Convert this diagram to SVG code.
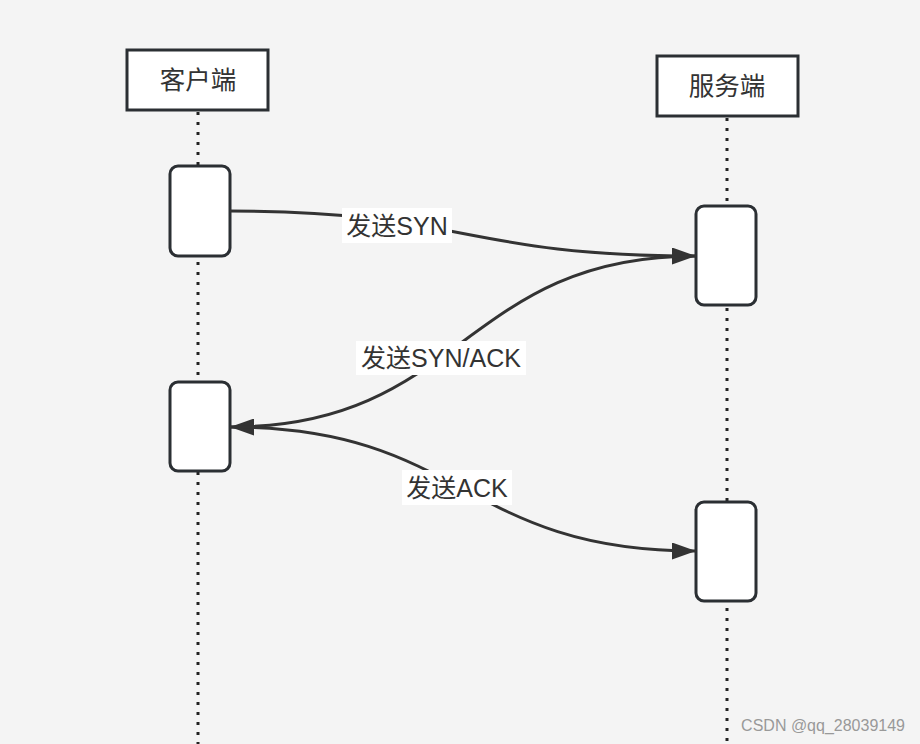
<svg xmlns="http://www.w3.org/2000/svg" width="920" height="744" viewBox="0 0 920 744">
<style>
.life{stroke:#222;stroke-width:3;stroke-dasharray:3 7;fill:none}
.head{fill:#fff;stroke:#2b2f33;stroke-width:3}
.act{fill:#fff;stroke:#2b2f33;stroke-width:3}
.ht{font-family:"Liberation Sans","Noto Sans CJK SC",sans-serif;font-size:25.5px;fill:#333;text-anchor:middle;dominant-baseline:central}
.lt{font-family:"Liberation Sans","Noto Sans CJK SC",sans-serif;font-size:25px;fill:#333;text-anchor:middle;dominant-baseline:central}
.lbg{fill:#fff}
.msg{fill:none;stroke:#333;stroke-width:3}
</style>
<defs>
<marker id="ah" viewBox="0 0 24 17" refX="24" refY="8.5" markerWidth="24" markerHeight="17" markerUnits="userSpaceOnUse" orient="auto">
<path d="M0,0 L24,8.5 L0,17 z" fill="#333"/>
</marker>
</defs>
<rect width="920" height="744" fill="#f4f4f4"/>
<g id="lifelines">
<line class="life" x1="198" y1="112" x2="198" y2="744"/>
<line class="life" x1="727" y1="118" x2="727" y2="744"/>
</g>
<g id="client">
<rect class="head" x="127" y="50" width="141" height="60"/>
<text class="ht" x="198" y="80">客户端</text>
</g>
<g id="server">
<rect class="head" x="657" y="56" width="141" height="60"/>
<text class="ht" x="727" y="86">服务端</text>
</g>
<g id="act-c1"><rect class="act" x="170" y="166" width="60" height="90" rx="8"/></g>
<g id="act-s1"><rect class="act" x="696" y="206" width="60" height="99" rx="8"/></g>
<g id="act-c2"><rect class="act" x="170" y="382" width="60" height="89" rx="8"/></g>
<g id="act-s2"><rect class="act" x="696" y="502" width="60" height="99" rx="8"/></g>
<g id="connectors">
<path class="msg" d="M230,211 C463,211 463,256 696,256" marker-end="url(#ah)"/>
<path class="msg" d="M696,256 C463,256 463,427 230,427" marker-end="url(#ah)"/>
<path class="msg" d="M230,427 C463,427 463,551 696,551" marker-end="url(#ah)"/>
<rect class="lbg" x="342" y="208" width="110" height="35"/>
<text class="lt" x="397" y="226">发送SYN</text>
<rect class="lbg" x="356" y="341" width="170" height="34"/>
<text class="lt" x="441" y="358">发送SYN/ACK</text>
<rect class="lbg" x="402" y="470" width="110" height="35"/>
<text class="lt" x="457" y="488">发送ACK</text>
</g>
<text x="905" y="731" font-family="Liberation Sans, sans-serif" font-size="16" fill="#999" text-anchor="end">CSDN @qq_28039149</text>
</svg>
